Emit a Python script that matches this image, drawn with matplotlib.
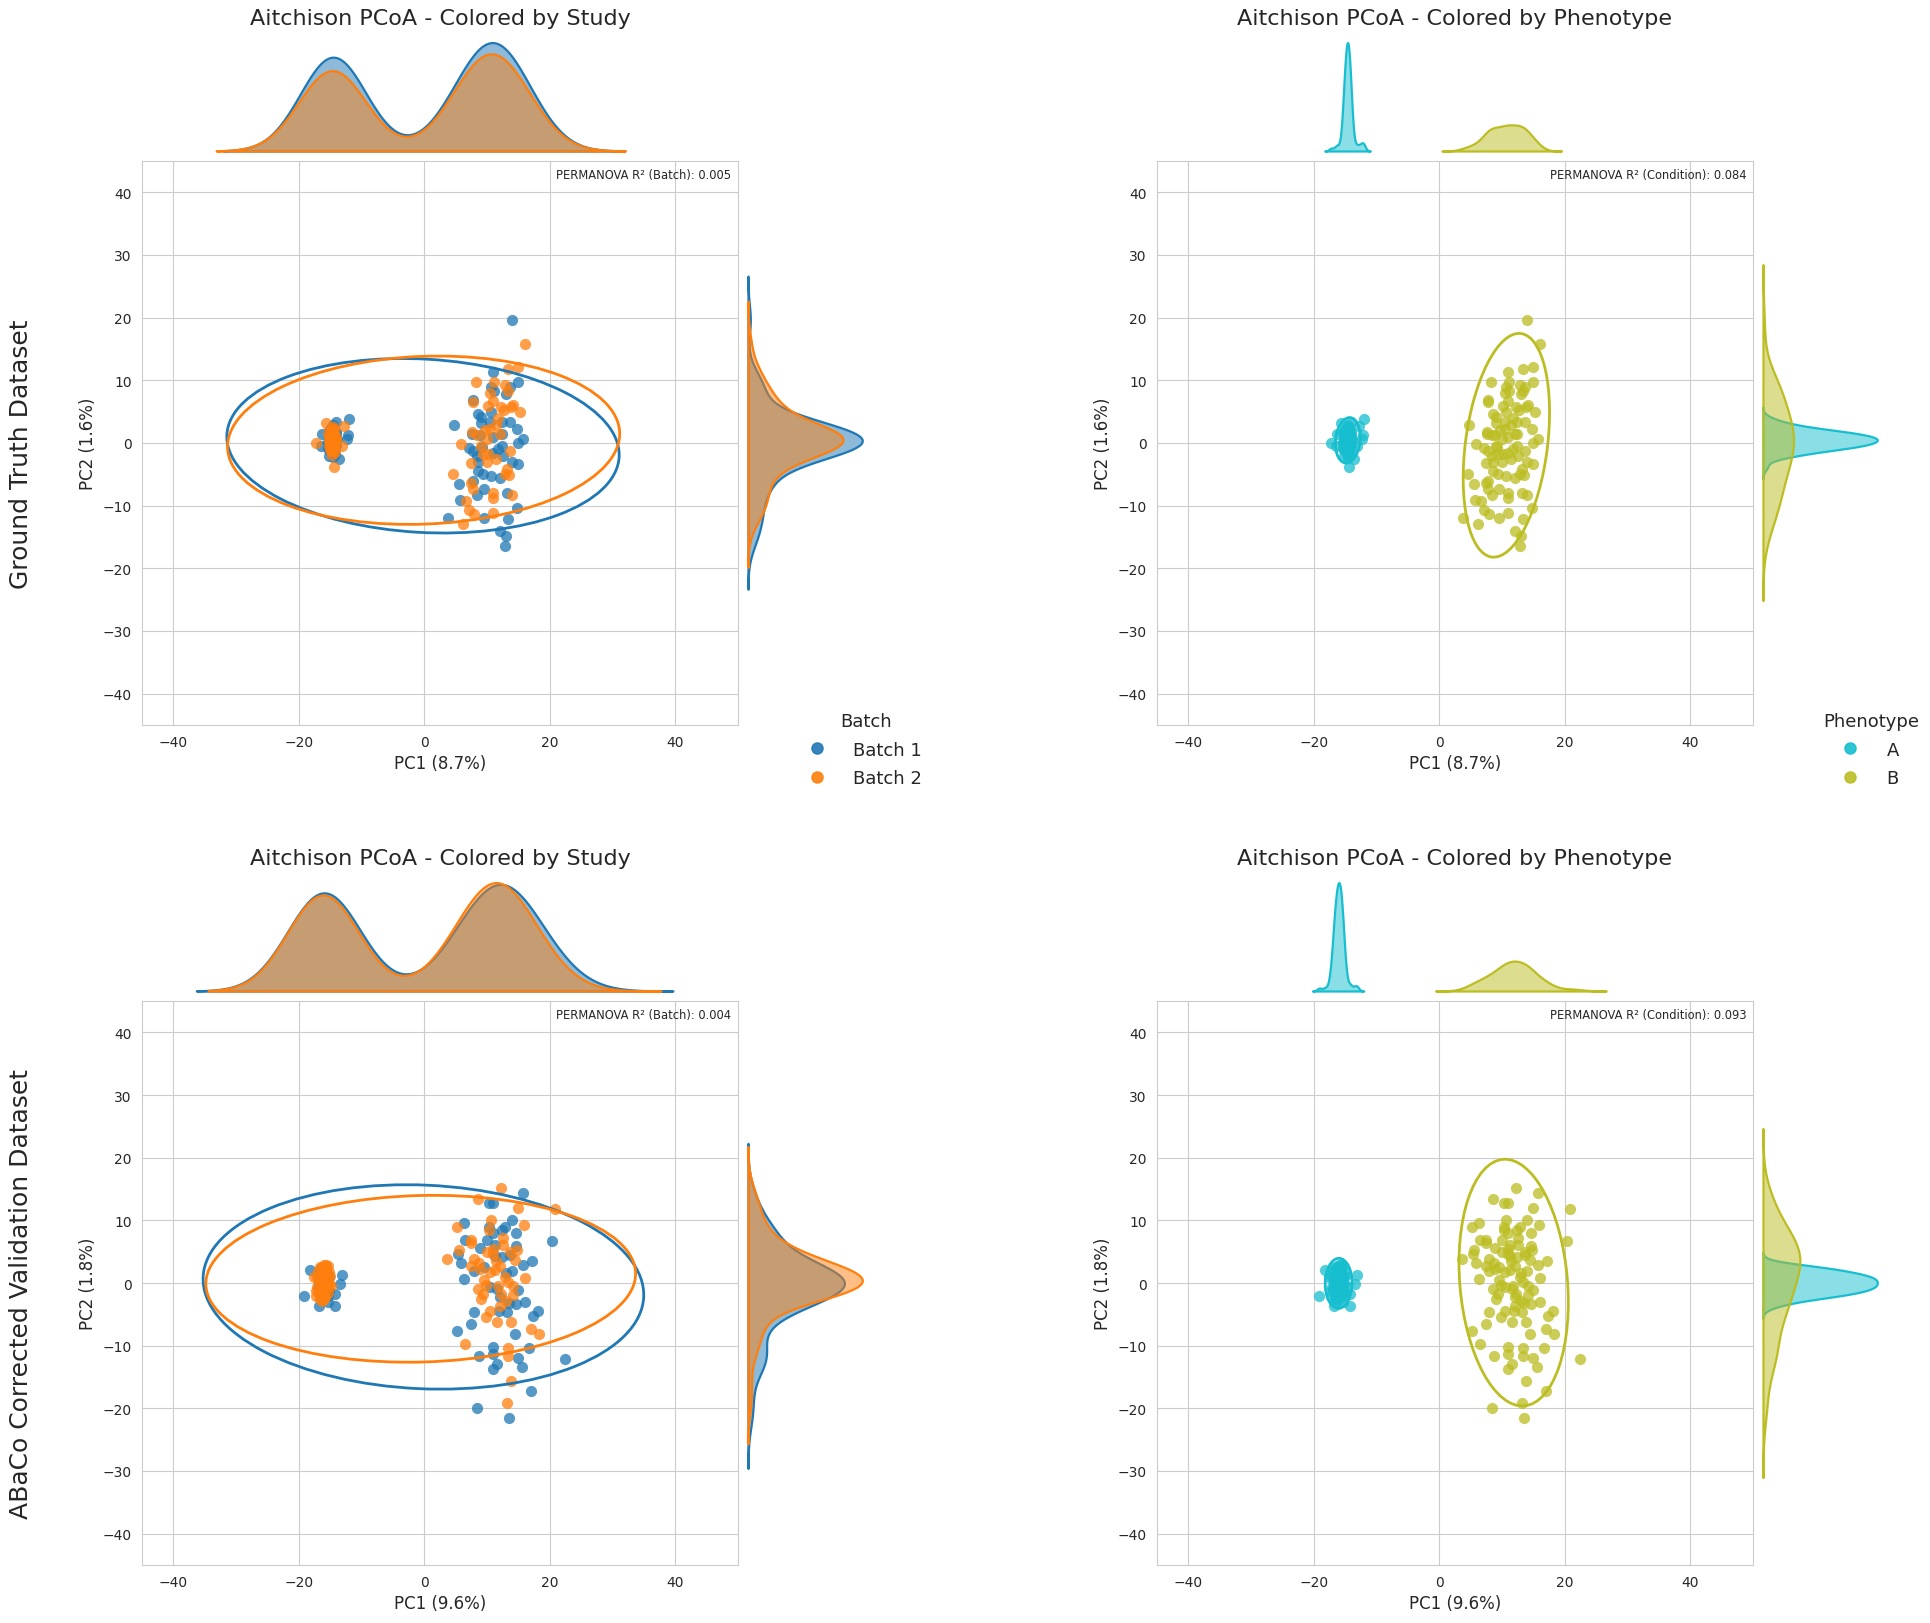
import numpy as np
import matplotlib.pyplot as plt
import seaborn as sns
from matplotlib.patches import Ellipse
from matplotlib.lines import Line2D
from matplotlib.colors import to_rgba

sns.set_style("whitegrid")

# ---------------- data ----------------
# Ground truth dataset: phenotype A / B, split by batch
gt_A_batch1 = [(-12.0, 3.9), (-14.1, 3.4), (-12.2, 1.2), (-12.3, 0.7), (-16.2, 1.5), (-16.4, -0.4),
               (-15.1, -2.0), (-13.5, -2.5),
               (-14.6, 0.3), (-14.2, 1.1), (-15.0, -0.4), (-14.4, -0.9), (-14.9, 1.6), (-14.1, 0.0),
               (-15.2, 0.7), (-14.7, -1.5), (-14.3, 2.0), (-15.1, -1.1), (-14.5, 0.9), (-14.0, -0.5),
               (-14.8, 2.4), (-15.3, 0.1), (-14.4, 1.5), (-14.9, -0.2), (-14.2, -1.8), (-14.7, 0.5),
               (-15.0, 1.2), (-14.5, -1.2), (-13.9, 0.6), (-14.8, -0.7), (-14.3, 0.2), (-15.2, 1.9),
               (-14.6, -2.2), (-14.1, 1.4), (-14.9, 0.8), (-14.4, -0.1), (-15.4, -0.8), (-14.6, 2.8),
               (-14.0, 1.8)]
gt_A_batch2 = [(-15.6, 3.2), (-12.8, 2.7), (-17.2, 0.05), (-14.4, -3.8), (-13.1, -0.4),
               (-14.7, 0.4), (-14.3, 0.9), (-15.0, 0.0), (-14.5, -0.6), (-14.9, 1.3), (-14.2, -0.2),
               (-14.6, 1.8), (-15.2, -0.5), (-14.4, 2.3), (-14.8, -1.3), (-14.1, 0.5), (-15.1, 0.9),
               (-14.6, -1.0), (-14.3, 1.5), (-14.9, -0.1), (-14.5, 0.2), (-14.0, 1.0), (-15.3, 1.6),
               (-14.7, -1.9), (-14.2, -1.4), (-14.8, 0.7), (-14.5, 2.6), (-15.0, -0.9), (-14.4, 0.6),
               (-14.9, 2.0), (-14.6, 1.2), (-14.3, -0.8), (-15.1, 0.3), (-14.7, 2.1)]
gt_B_batch1 = [(13.9, 19.7), (11.0, 11.4), (15.0, 9.8), (13.6, 9.0), (10.6, 9.0), (11.1, 8.3), (13.0, 7.8),
               (7.7, 6.8), (10.6, 5.0), (8.6, 4.7), (9.0, 4.2), (4.8, 2.8), (9.0, 3.2), (10.5, 3.3),
               (12.3, 3.4), (13.7, 3.4), (14.7, 2.3), (7.6, 1.5), (8.8, 1.2), (11.0, 1.0), (12.3, 1.5),
               (15.7, 0.7), (15.0, 0.05), (12.4, -0.4), (7.1, -0.8), (7.8, -1.2), (9.2, -0.6), (11.0, -1.6),
               (12.6, -2.0), (8.4, -2.0), (8.6, -3.0), (14.0, -3.0), (14.9, -3.3), (8.5, -4.4), (9.4, -4.9),
               (10.6, -5.2), (12.1, -5.6), (7.8, -6.0), (5.6, -6.5), (9.5, -7.4), (8.4, -8.3), (13.1, -7.9),
               (5.7, -9.1), (14.7, -10.3), (3.8, -11.9), (9.5, -12.0), (13.3, -12.2), (12.0, -14.1),
               (13.0, -14.9), (12.9, -16.4), (11.7, -0.9)]
gt_B_batch2 = [(16.1, 15.8), (15.0, 12.1), (13.3, 11.8), (8.3, 9.8), (11.1, 9.8), (12.8, 9.3), (13.3, 8.3),
               (10.4, 7.9), (11.0, 6.7), (7.7, 6.6), (10.1, 5.9), (12.2, 5.7), (12.7, 5.3), (14.1, 6.1),
               (13.8, 5.7), (15.2, 5.0), (11.4, 2.8), (10.5, 2.3), (9.6, 2.0), (7.6, 1.8), (8.4, 1.2),
               (10.0, 0.7), (5.8, -0.2), (7.5, -3.2), (9.3, -1.7), (10.2, -1.8), (11.4, -2.5), (10.0, -3.0),
               (13.7, -1.3), (4.5, -4.9), (13.1, -4.2), (12.8, -5.0), (13.5, -5.1), (7.5, -6.4), (7.8, -7.3),
               (11.0, -8.0), (11.0, -8.8), (14.0, -8.3), (6.7, -9.3), (7.2, -10.7), (8.0, -11.3),
               (10.9, -11.1), (6.2, -13.0), (11.8, 4.0), (9.0, -0.5), (12.0, 1.5)]

# ABaCo corrected validation dataset
ab_A_batch1 = [(-19.1, -2.1), (-13.1, 1.3), (-14.2, -3.6), (-16.7, -3.6), (-18.2, 2.1), (-13.4, -0.2),
               (-14.2, -1.7), (-15.4, -3.1),
               (-16.0, 0.2), (-15.6, 1.0), (-16.4, -0.6), (-15.8, -1.2), (-16.6, 0.8), (-15.4, 0.4),
               (-16.2, 1.6), (-16.8, -0.1), (-15.7, -0.4), (-16.3, -1.8), (-15.9, 2.0), (-16.5, 0.3),
               (-15.3, -0.9), (-16.1, -0.8), (-16.7, 1.3), (-15.5, 1.5), (-16.0, -2.3), (-16.9, -1.0),
               (-15.8, 0.6), (-16.4, 2.4), (-15.6, -1.6), (-16.2, -0.1), (-15.2, 0.9), (-16.6, -1.5),
               (-15.9, -0.6), (-16.3, 0.9), (-15.7, 2.6), (-16.8, 0.5), (-15.4, -2.0), (-16.1, 1.2),
               (-15.5, -0.2), (-16.5, -2.6), (-15.1, -1.3), (-16.0, -1.0), (-15.8, 1.8)]
ab_A_batch2 = [(-16.0, 2.8), (-15.4, 2.7), (-16.6, 2.5), (-15.8, 2.2), (-16.9, 1.9), (-15.2, 1.8),
               (-16.3, 1.5), (-15.6, 1.2), (-17.1, 1.0), (-16.0, 0.8), (-15.3, 0.5), (-16.7, 0.3),
               (-15.9, 0.1), (-16.4, -0.2), (-15.5, -0.4), (-17.0, -0.6), (-16.1, -0.9), (-15.7, -1.1),
               (-16.8, -1.4), (-15.4, -1.6), (-16.3, -1.9), (-17.3, -2.0), (-15.8, -2.2), (-16.6, -2.5),
               (-15.1, -0.1), (-16.2, 2.0), (-17.5, 0.9), (-15.0, 1.1), (-16.5, -1.0), (-14.8, -0.5),
               (-16.0, -2.6), (-15.6, 2.9), (-17.2, -1.2), (-16.2, 0.4), (-15.9, 1.6), (-16.5, -1.7),
               (-15.7, -0.7), (-16.1, 2.5), (-16.8, 0.6), (-15.5, 0.0), (-16.3, -2.8)]
ab_B_batch1 = [(15.7, 14.3), (10.3, 12.8), (11.0, 12.8), (13.9, 10.1), (6.3, 9.6), (10.3, 9.0), (12.9, 9.0),
               (12.3, 8.5), (11.0, 8.0), (14.6, 8.0), (6.5, 6.9), (10.0, 6.9), (20.3, 6.7), (8.8, 5.6),
               (11.2, 6.1), (14.6, 5.9), (5.4, 4.7), (11.2, 4.3), (12.3, 4.1), (13.6, 4.4), (5.8, 3.2),
               (9.5, 2.6), (15.7, 2.9), (17.2, 3.5), (8.0, 1.9), (13.0, 1.6), (13.9, 1.9), (6.3, 0.7),
               (10.4, -0.7), (11.6, -1.0), (14.9, -1.1), (12.0, -2.2), (13.5, -3.2), (14.6, -3.3),
               (16.1, -3.0), (7.9, -4.6), (11.9, -4.5), (13.1, -4.6), (17.3, -5.2), (18.1, -4.5), (7.4, -6.5),
               (5.2, -7.7), (14.4, -8.2), (11.0, -10.2), (16.7, -10.4), (8.7, -11.6), (11.0, -11.4),
               (14.9, -11.9), (11.6, -12.9), (15.6, -13.4), (10.9, -13.8), (22.4, -12.1), (17.0, -17.2),
               (8.4, -19.9), (13.5, -21.6)]
ab_B_batch2 = [(12.2, 15.2), (8.6, 13.4), (15.0, 12.0), (20.8, 11.8), (10.6, 10.1), (5.2, 8.9), (15.9, 9.2),
               (10.3, 8.4), (7.4, 6.9), (7.5, 6.4), (5.5, 5.3), (11.0, 5.5), (12.5, 6.1), (13.6, 4.9),
               (3.6, 3.9), (7.9, 3.9), (8.7, 3.2), (7.5, 2.7), (12.1, 2.7), (10.4, 1.8), (14.4, 3.6),
               (16.0, 0.85), (14.2, -0.4), (8.6, -1.0), (9.3, -1.8), (9.1, -2.6), (12.2, -1.7), (14.1, -1.9),
               (10.4, -4.4), (9.9, -5.4), (11.6, -6.2), (13.8, -6.2), (17.0, -7.3), (18.3, -8.2), (6.5, -9.7),
               (13.4, -10.3), (13.4, -11.6), (13.8, -15.6), (13.2, -19.1),
               (11.5, 3.5), (12.8, 1.0), (10.0, 5.0), (13.0, -2.8), (9.5, 0.5), (11.8, -0.5),
               (11.2, 2.0), (12.6, 7.2), (9.8, -0.3), (13.4, 0.2), (10.9, 4.6), (12.0, -3.6), (8.9, 2.2),
               (14.8, 5.2)]

row_names = ["Ground Truth Dataset", "ABaCo Corrected Validation Dataset"]
pc1_labels = ["PC1 (8.7%)", "PC1 (9.6%)"]
pc2_labels = ["PC2 (1.6%)", "PC2 (1.8%)"]
r2_batch = [0.005, 0.004]
r2_condition = [0.084, 0.093]

batch_labels = ["Batch 1", "Batch 2"]
batch_colors = ["#1f77b4", "#ff7f0e"]
pheno_labels = ["A", "B"]
pheno_colors = ["#17becf", "#bcbd22"]

# ---------------- helpers ----------------
W, H = 1930, 1624


def box(x0, y0, x1, y1):
    return [x0 / W, 1 - y1 / H, (x1 - x0) / W, (y1 - y0) / H]


def kde(v):
    v = np.asarray(v)
    bw = v.std(ddof=1) * len(v) ** (-0.2)
    g = np.linspace(v.min() - 3 * bw, v.max() + 3 * bw, 300)
    d = np.exp(-0.5 * ((g[:, None] - v[None, :]) / bw) ** 2).sum(1) / (len(v) * bw * np.sqrt(2 * np.pi))
    return g, d


def conf_ellipse(ax, x, y, color):
    cov = np.cov(x, y)
    vals, vecs = np.linalg.eigh(cov)
    order = vals.argsort()[::-1]
    vals, vecs = vals[order], vecs[:, order]
    angle = np.degrees(np.arctan2(vecs[1, 0], vecs[0, 0]))
    k = np.sqrt(5.991)
    ax.add_patch(Ellipse((np.mean(x), np.mean(y)), 2 * k * np.sqrt(vals[0]), 2 * k * np.sqrt(vals[1]),
                         angle=angle, fill=False, edgecolor=color, lw=2.0, zorder=4))


def panel(col, row, groups, title, r2_text):
    dx = col * 1015
    dy = row * 840
    ax = fig.add_axes(box(141.6 + dx, 162 + dy, 738.3 + dx, 726 + dy))
    ax_t = fig.add_axes(box(141.6 + dx, 36 + dy, 738.3 + dx, 152 + dy))
    ax_r = fig.add_axes(box(748 + dx, 162 + dy, 868 + dx, 726 + dy))

    n_all = sum(len(p) for p, c in groups)
    tops, rights = [], []
    for pts, c in groups:
        x = np.array([p[0] for p in pts])
        y = np.array([p[1] for p in pts])
        ax.scatter(x, y, s=65, color=c, alpha=0.75, linewidths=0, zorder=3)
        conf_ellipse(ax, x, y, c)
        w = len(pts) / n_all
        gx, d = kde(x)
        ax_t.fill_between(gx, d * w, facecolor=to_rgba(c, 0.5), edgecolor=c, lw=1.6, clip_on=False)
        tops.append((d * w).max())
        gy, d = kde(y)
        ax_r.fill_betweenx(gy, d * w, facecolor=to_rgba(c, 0.5), edgecolor=c, lw=1.6, clip_on=False)
        rights.append((d * w).max())

    ax.set_xlim(-45, 50)
    ax.set_ylim(-45, 45)
    ax.set_xticks([-40, -20, 0, 20, 40])
    ax.set_yticks(np.arange(-40, 41, 10))
    ax.tick_params(labelsize=10)
    ax.set_xlabel(pc1_labels[row], fontsize=12)
    ax.set_ylabel(pc2_labels[row], fontsize=12)
    ax.text(0.988, 0.988, r2_text, transform=ax.transAxes, ha="right", va="top", fontsize=8.3)

    ax_t.set_xlim(-45, 50)
    ax_t.set_ylim(0, max(tops) * 1.07)
    ax_t.axis("off")
    ax_t.set_title(title, fontsize=16, pad=8)
    ax_r.set_ylim(-45, 45)
    ax_r.set_xlim(0, max(rights) * 1.05)
    ax_r.axis("off")


fig = plt.figure(figsize=(19.3, 16.24), dpi=100)

data_rows = [(gt_A_batch1, gt_A_batch2, gt_B_batch1, gt_B_batch2),
             (ab_A_batch1, ab_A_batch2, ab_B_batch1, ab_B_batch2)]

for row, (a1, a2, b1, b2) in enumerate(data_rows):
    panel(0, row, [(a1 + b1, batch_colors[0]), (a2 + b2, batch_colors[1])],
          "Aitchison PCoA - Colored by Study", f"PERMANOVA R\u00b2 (Batch): {r2_batch[row]:.3f}")
    panel(1, row, [(a1 + a2, pheno_colors[0]), (b1 + b2, pheno_colors[1])],
          "Aitchison PCoA - Colored by Phenotype", f"PERMANOVA R\u00b2 (Condition): {r2_condition[row]:.3f}")
    fig.text(21 / W, 1 - (454 + row * 840) / H, row_names[row], rotation=90, fontsize=18,
             ha="center", va="center", color=".15")

# legends only on the top row
for col, (labels, colors, ttl) in enumerate([(batch_labels, batch_colors, "Batch"),
                                             (pheno_labels, pheno_colors, "Phenotype")]):
    handles = [Line2D([], [], marker="o", ls="", color=c, markersize=8, alpha=0.9) for c in colors]
    fig.legend(handles, labels, title=ttl, loc="upper center", frameon=False,
               bbox_to_anchor=((866 + col * 1005) / W, 1 - 697 / H),
               fontsize=13, title_fontsize=13, handlelength=0.8, handletextpad=1.6, labelspacing=0.58)

fig.savefig("out.png", dpi=100)
